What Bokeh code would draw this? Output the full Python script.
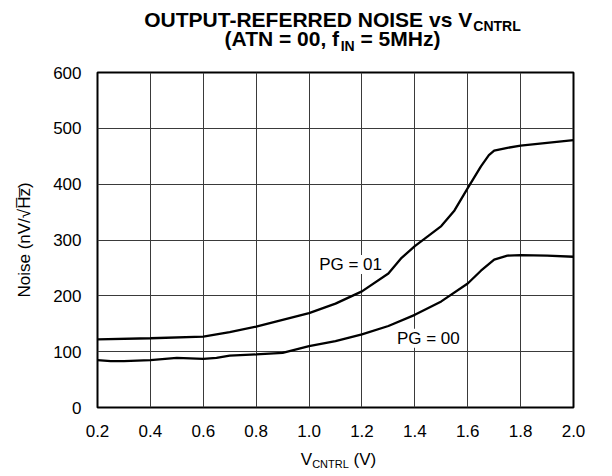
from bokeh.plotting import figure
from bokeh.layouts import column
from bokeh.models import Label, FixedTicker, Range1d
from bokeh.embed import file_html
from bokeh.resources import INLINE

# ---- data ----
x_ticks = [0.2, 0.4, 0.6, 0.8, 1.0, 1.2, 1.4, 1.6, 1.8, 2.0]
x_tick_labels = ["0.2", "0.4", "0.6", "0.8", "1.0", "1.2", "1.4", "1.6", "1.8", "2.0"]
y_ticks = [0, 100, 200, 300, 400, 500, 600]
y_tick_labels = ["0", "100", "200", "300", "400", "500", "600"]

vctrl_pg01 = [0.2, 0.4, 0.6, 0.7, 0.8, 0.9, 1.0, 1.1, 1.2, 1.3, 1.35, 1.4, 1.45,
              1.5, 1.55, 1.6, 1.65, 1.68, 1.7, 1.75, 1.8, 1.9, 2.0]
noise_pg01 = [122, 124, 127, 135, 145, 157, 169, 186, 208, 240, 268, 289, 307,
              325, 353, 393, 432, 452, 460, 465, 469, 474, 479]

vctrl_pg00 = [0.2, 0.25, 0.3, 0.4, 0.5, 0.6, 0.65, 0.7, 0.8, 0.9, 1.0, 1.1, 1.2,
              1.3, 1.4, 1.5, 1.6, 1.65, 1.7, 1.75, 1.8, 1.9, 2.0]
noise_pg00 = [85, 83, 83, 85, 89, 87, 89, 93, 95, 98, 110, 119, 131,
              146, 166, 190, 222, 245, 265, 272, 273, 272, 270]

series_labels = ["PG = 01", "PG = 00"]
label_x = [1.157, 1.451]
label_y = [256, 124]

FONT = "Liberation Sans"
W = 604
BL, BR = 97, 31                     # left / right borders (frame 97..573)
TITLE_H, MAIN_H, XLAB_H = 55, 391, 26

# ---------------- main plot ----------------
p = figure(width=W, height=MAIN_H, output_backend="svg", toolbar_location=None,
           title=None,
           x_range=Range1d(0.2, 2.0), y_range=Range1d(0, 600),
           min_border_left=BL, min_border_right=BR, min_border_top=72 - TITLE_H,
           min_border_bottom=39)
p.background_fill_color = "white"
p.border_fill_color = "white"
p.outline_line_color = "black"
p.outline_line_width = 2

p.xaxis.ticker = FixedTicker(ticks=x_ticks)
p.yaxis.ticker = FixedTicker(ticks=y_ticks)
p.xaxis.major_label_overrides = dict(zip(x_ticks, x_tick_labels))
p.yaxis.major_label_overrides = dict(zip(y_ticks, y_tick_labels))
for ax in (p.xaxis, p.yaxis):
    ax.axis_line_color = None
    ax.major_tick_in = 0
    ax.major_tick_out = 0
    ax.minor_tick_line_color = None
    ax.major_label_text_font = FONT
    ax.major_label_text_font_size = "17px"
    ax.major_label_text_color = "black"
p.xaxis.major_label_standoff = 17
p.yaxis.major_label_standoff = 16
p.yaxis.axis_label = "Noise (nV/\u221aH\u0305z\u0305)"
p.yaxis.axis_label_text_font = FONT
p.yaxis.axis_label_text_font_size = "17px"
p.yaxis.axis_label_text_font_style = "normal"
p.yaxis.axis_label_text_color = "black"
p.yaxis.axis_label_standoff = 16

p.xgrid.ticker = FixedTicker(ticks=x_ticks)
p.ygrid.ticker = FixedTicker(ticks=y_ticks)
for g in (p.xgrid, p.ygrid):
    g.grid_line_color = "#3a3a3a"
    g.grid_line_width = 1

p.line(vctrl_pg01, noise_pg01, line_color="black", line_width=2.3)
p.line(vctrl_pg00, noise_pg00, line_color="black", line_width=2.3)

for t, lx, ly in zip(series_labels, label_x, label_y):
    p.add_layout(Label(x=lx, y=ly, text=t, text_font=FONT, text_font_size="17px",
                       text_align="center", text_baseline="middle",
                       text_color="black", background_fill_color="white"))

# ---------------- text strips (title / x label with subscripts) ----------------
BOLD_W = {'O': 778, 'U': 722, 'T': 611, 'P': 667, '-': 333, 'R': 722, 'E': 667,
          'F': 611, 'D': 722, ' ': 278, 'N': 722, 'I': 278, 'S': 667, 'v': 556,
          's': 556, 'V': 667, 'C': 722, 'L': 611, '(': 333, ')': 333, 'A': 722,
          '=': 584, '0': 556, ',': 278, 'f': 333, '5': 556, 'M': 833, 'H': 722,
          'z': 500}
REG_W = {'V': 667, 'C': 722, 'N': 722, 'T': 611, 'R': 722, 'L': 556, ' ': 278,
         '(': 333, ')': 333}
BASELINE_FIX = 0.32   # empirical correction of the rendered baseline (em)


def strip(h):
    # frame spans page pixels BL..W-BR horizontally and 0..h vertically
    f = figure(width=W, height=h, output_backend="svg", toolbar_location=None,
               title=None,
               x_range=Range1d(BL, W - BR), y_range=Range1d(h, 0),
               x_axis_location=None, y_axis_location=None,
               min_border_left=BL, min_border_right=BR,
               min_border_top=0, min_border_bottom=0)
    f.outline_line_color = None
    f.grid.visible = False
    f.background_fill_color = "white"
    f.border_fill_color = "white"
    return f


def width(s, size, bold):
    tab = BOLD_W if bold else REG_W
    return sum(tab.get(c, 556) for c in s) * size / 1000.0


def run(fig, parts, cx, base, bold):
    """parts: list of (text, size, baseline_shift)"""
    total = sum(width(t, sz, bold) for t, sz, _ in parts)
    x = cx - total / 2
    for t, sz, dy in parts:
        lead = len(t) - len(t.lstrip(" "))
        x += width(" " * lead, sz, bold)      # SVG drops leading spaces
        body = t.lstrip(" ")
        fig.add_layout(Label(x=x, y=base + dy - BASELINE_FIX * sz, text=body,
                             text_font=FONT, text_font_size=f"{sz}px",
                             text_font_style="bold" if bold else "normal",
                             text_align="left", text_baseline="alphabetic",
                             text_color="black"))
        x += width(body, sz, bold)


top = strip(TITLE_H)
run(top, [("OUTPUT-REFERRED NOISE vs V", 21, 0), ("CNTRL", 14, 3.5)], 332, 26, True)
run(top, [("(ATN = 00, f", 21, 0), ("IN", 14, 4.5), (" = 5MHz)", 21, 0)], 332, 45, True)

bot = strip(XLAB_H)
run(bot, [("V", 17, 0), ("CNTRL", 11, 3), (" (V)", 17, 0)], 338, 18, False)

layout = column(top, p, bot, spacing=0)
open("out.html", "w").write(file_html(layout, INLINE))
